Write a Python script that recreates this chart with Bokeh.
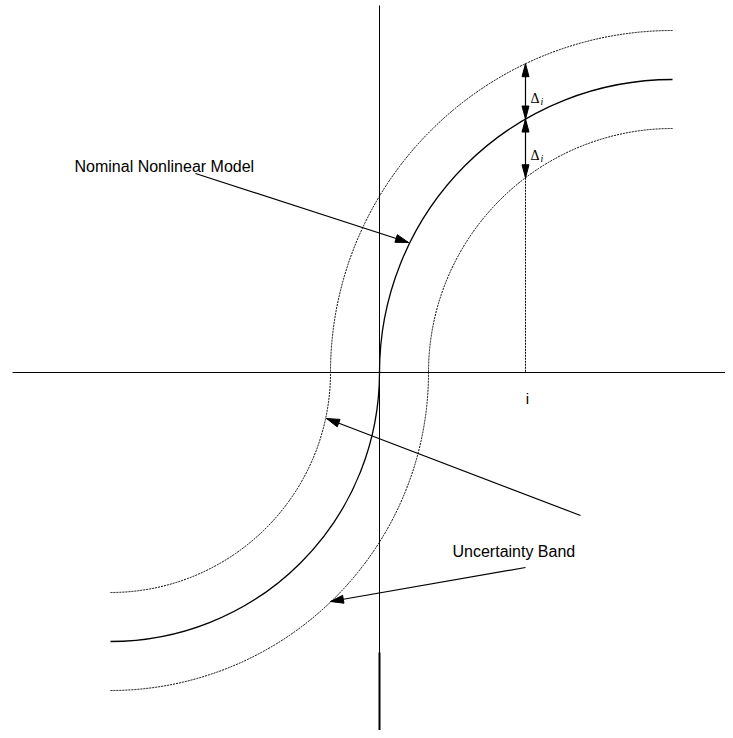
import numpy as np
from bokeh.plotting import figure
from bokeh.models import Range1d, Label
from bokeh.embed import file_html
from bokeh.resources import INLINE

# ---- diagram geometry (pixel-like units, origin at the axes crossing, y up) ----
upper_center = [293, 0]      # centre of the upper quarter arc
upper_radius = 293
lower_center = [-269, 0]     # centre of the lower quarter arc
lower_radius = 269
band_delta = 49              # half width of the uncertainty band
i_position = 146             # abscissa of the marked point i

h_axis_x = [-367, 346]
v_axis_y = [-363, 367]
v_axis_thick_y = [-363, -280]

nominal_label = "Nominal Nonlinear Model"
nominal_label_pos = [-305, 206]
nominal_arrow = [[-184, 199], [29, 130]]          # start, tip

band_label = "Uncertainty Band"
band_label_pos = [73, -179]
band_arrows = [[[201, -143], [-53, -46]],
               [[146, -195], [-49, -229]]]

delta_text = "Δ"
delta_sub = "i"
i_text = "i"
i_label_y = -26

SANS = "Liberation Sans"
SERIF = "Liberation Serif"
DOT = "2 1"

W, H = 725, 730
p = figure(width=W, height=H, output_backend="svg", toolbar_location=None,
           x_range=Range1d(-379, -379 + W), y_range=Range1d(372 - H, 372),
           min_border=0, x_axis_location=None, y_axis_location=None)
p.outline_line_color = None
p.grid.visible = False
p.background_fill_color = "white"
p.border_fill_color = "white"

# axes
p.line(h_axis_x, [0, 0], line_color="black", line_width=1)
p.line([0, 0], v_axis_y, line_color="black", line_width=1)
p.line([0, 0], v_axis_thick_y, line_color="black", line_width=2)

# nominal model: two quarter arcs
p.arc(x=[upper_center[0]], y=[upper_center[1]], radius=upper_radius,
      start_angle=np.pi / 2, end_angle=np.pi, line_color="black", line_width=1.3)
p.arc(x=[lower_center[0]], y=[lower_center[1]], radius=lower_radius,
      start_angle=-np.pi / 2, end_angle=0, line_color="black", line_width=1.3)

# uncertainty band (dotted)
for r_up, r_lo in [(upper_radius + band_delta, lower_radius - band_delta),
                   (upper_radius - band_delta, lower_radius + band_delta)]:
    p.arc(x=[upper_center[0]], y=[upper_center[1]], radius=r_up,
          start_angle=np.pi / 2, end_angle=np.pi, line_color="black",
          line_width=1, line_dash=DOT)
    p.arc(x=[lower_center[0]], y=[lower_center[1]], radius=r_lo,
          start_angle=-np.pi / 2, end_angle=0, line_color="black",
          line_width=1, line_dash=DOT)


def head(start, tip, length=13, half=4):
    s = np.array(start, float)
    t = np.array(tip, float)
    u = (t - s) / np.linalg.norm(t - s)
    n = np.array([-u[1], u[0]])
    b = t - length * u
    pts = [t, b + half * n, b - half * n]
    return [q[0] for q in pts], [q[1] for q in pts]


heads_x, heads_y = [], []


def arrow(start, tip, both=False, half=4):
    p.line([start[0], tip[0]], [start[1], tip[1]], line_color="black", line_width=1.2)
    hx, hy = head(start, tip, half=half)
    heads_x.append(hx)
    heads_y.append(hy)
    if both:
        hx, hy = head(tip, start, half=half)
        heads_x.append(hx)
        heads_y.append(hy)


arrow(*nominal_arrow)
for a in band_arrows:
    arrow(*a)

# delta arrows at x = i
dx = upper_center[0] - i_position
y_top = np.sqrt((upper_radius + band_delta) ** 2 - dx ** 2)
y_mid = np.sqrt(upper_radius ** 2 - dx ** 2)
y_low = np.sqrt((upper_radius - band_delta) ** 2 - dx ** 2)
arrow([i_position, y_mid], [i_position, y_top], both=True, half=3.5)
arrow([i_position, y_mid], [i_position, y_low], both=True, half=3.5)
p.line([i_position, i_position], [y_low, 0], line_color="black",
       line_width=1, line_dash=DOT)

p.patches(heads_x, heads_y, fill_color="black", line_color="black", line_width=1)

# labels
p.add_layout(Label(x=nominal_label_pos[0], y=nominal_label_pos[1], text=nominal_label,
                   text_font=SANS, text_font_size="16px", text_color="black",
                   text_baseline="alphabetic"))
p.add_layout(Label(x=band_label_pos[0], y=band_label_pos[1], text=band_label,
                   text_font=SANS, text_font_size="16px", text_color="black",
                   text_baseline="alphabetic"))
p.add_layout(Label(x=i_position + 2, y=i_label_y, text=i_text,
                   text_font=SANS, text_font_size="15px", text_color="black",
                   text_align="center", text_baseline="alphabetic"))

for yb in [(y_top + y_mid) / 2 - 7, (y_mid + y_low) / 2 - 7]:
    p.add_layout(Label(x=i_position + 5, y=yb, text=delta_text,
                       text_font=SERIF, text_font_size="14px", text_color="black",
                       text_baseline="alphabetic"))
    p.add_layout(Label(x=i_position + 15, y=yb - 3, text=delta_sub,
                       text_font=SERIF, text_font_size="10px", text_font_style="italic",
                       text_color="black", text_baseline="alphabetic"))

open("out.html", "w").write(file_html(p, INLINE))
